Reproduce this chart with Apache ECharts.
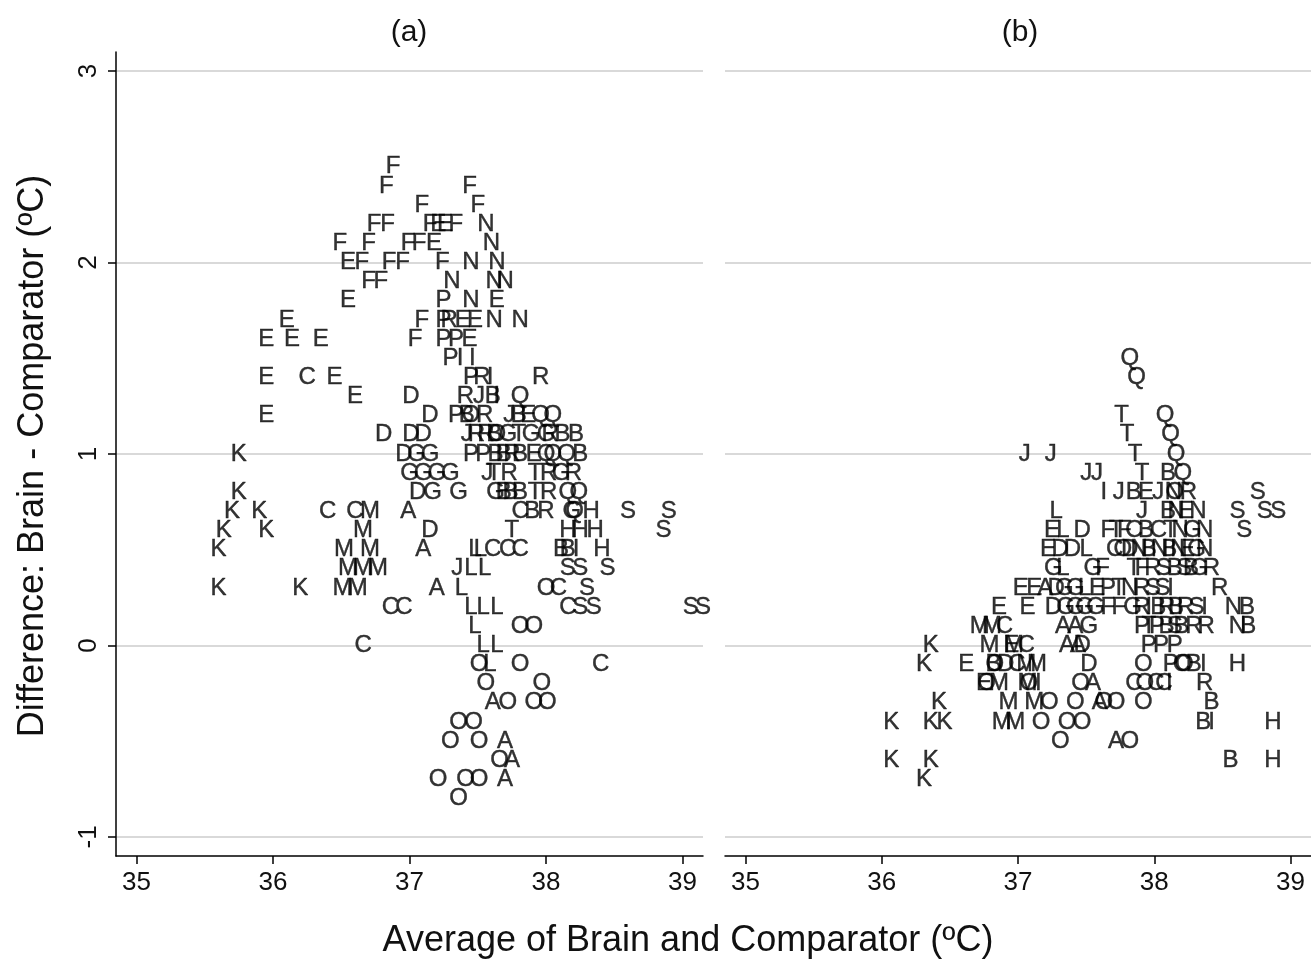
<!DOCTYPE html>
<html><head><meta charset="utf-8">
<script src="https://cdn.jsdelivr.net/npm/echarts@6/dist/echarts.min.js"></script>
<style>html,body{margin:0;padding:0;background:#fff}#c{width:1311px;height:960px}</style>
</head><body><div id="c"></div>
<script>
const xTicks = [35, 36, 37, 38, 39];
const yTicks = [-1, 0, 1, 2, 3];
const panelTitles = ['(a)', '(b)'];
const xTitle = 'Average of Brain and Comparator (ºC)';
const yTitle = 'Difference: Brain - Comparator (ºC)';

// Panel (a): one row per difference value
const aRowY = [2.5, 2.4, 2.3, 2.2, 2.1, 2.0, 1.9, 1.8, 1.7, 1.6, 1.5, 1.4, 1.3, 1.2, 1.1, 1.0, 0.9, 0.8, 0.7, 0.6, 0.5, 0.4, 0.3, 0.2, 0.1, 0.0, -0.1, -0.2, -0.3, -0.4, -0.5, -0.6, -0.7, -0.8];
const aRowLetters = ['F','FF','FF','FFFEEFN','FFFFEN','EFFFFNN','FFNNN','EPNE','EFPREENN','EEEFPPE','PII','ECEPRIR','EDRJBIQ','EDPBORJBEQQ','DDDJRRBOGTGGRBB','KDGGPPBBRBEQQQB','GGGGJTRTRGR','KDGGGBBBTRQQ','KKCCMACBRGQHSS','KKMDTHHHS','KMMALLCCCBBIH','MMMJLLSSS','KKMMALOCS','CCLLLCSSSS','LOO','CLL','OLOC','OO','AOOO','OO','OOA','OA','OOOA','O'];
const aRowX = [
  [36.88],
  [36.83, 37.44],
  [37.09, 37.50],
  [36.74, 36.84, 37.15, 37.21, 37.26, 37.34, 37.56],
  [36.49, 36.70, 36.99, 37.07, 37.18, 37.60],
  [36.55, 36.65, 36.85, 36.95, 37.24, 37.45, 37.64],
  [36.70, 36.79, 37.31, 37.62, 37.70],
  [36.55, 37.25, 37.45, 37.64],
  [36.10, 37.09, 37.25, 37.29, 37.39, 37.48, 37.62, 37.81],
  [35.95, 36.14, 36.35, 37.04, 37.25, 37.34, 37.44],
  [37.30, 37.37, 37.46],
  [35.95, 36.25, 36.45, 37.45, 37.53, 37.59, 37.96],
  [36.60, 37.01, 37.41, 37.51, 37.61, 37.64, 37.81],
  [35.95, 37.15, 37.34, 37.42, 37.45, 37.55, 37.73, 37.80, 37.87, 37.96, 38.05],
  [36.81, 37.01, 37.10, 37.42, 37.49, 37.56, 37.62, 37.64, 37.72, 37.80, 37.89, 38.00, 38.03, 38.12, 38.22],
  [35.75, 36.96, 37.05, 37.15, 37.45, 37.54, 37.63, 37.69, 37.75, 37.81, 37.91, 38.00, 38.05, 38.15, 38.25],
  [37.00, 37.10, 37.20, 37.30, 37.57, 37.62, 37.73, 37.92, 38.02, 38.11, 38.20],
  [35.75, 37.06, 37.17, 37.36, 37.63, 37.69, 37.74, 37.81, 37.92, 38.02, 38.16, 38.24],
  [35.70, 35.90, 36.40, 36.60, 36.71, 36.99, 37.81, 37.90, 38.00, 38.19, 38.21, 38.33, 38.60, 38.90],
  [35.64, 35.95, 36.66, 37.15, 37.75, 38.16, 38.25, 38.36, 38.86],
  [35.60, 36.52, 36.71, 37.10, 37.48, 37.52, 37.61, 37.72, 37.81, 38.11, 38.16, 38.22, 38.41],
  [36.55, 36.66, 36.77, 37.35, 37.45, 37.55, 38.16, 38.25, 38.45],
  [35.60, 36.20, 36.51, 36.62, 37.20, 37.38, 38.00, 38.09, 38.30],
  [36.86, 36.96, 37.45, 37.54, 37.64, 38.16, 38.25, 38.35, 39.06, 39.15],
  [37.48, 37.81, 37.91],
  [36.66, 37.54, 37.64],
  [37.51, 37.59, 37.81, 38.40],
  [37.56, 37.97],
  [37.61, 37.72, 37.91, 38.01],
  [37.36, 37.47],
  [37.30, 37.51, 37.70],
  [37.66, 37.75],
  [37.21, 37.41, 37.51, 37.70],
  [37.36]
];

// Panel (b)
const bRowY = [1.5, 1.4, 1.2, 1.1, 1.0, 0.9, 0.8, 0.7, 0.6, 0.5, 0.4, 0.3, 0.2, 0.1, 0.0, -0.1, -0.2, -0.3, -0.4, -0.5, -0.6, -0.7];
const bRowLetters = ['Q','Q','TQ','TQ','JJTQ','JJTBQ','IJBEJNORS','LJBNENSSS','ELDFTFCBCTNGNS','EDDLCODNBNBNEGN','GLGFTFRSBSBGR','EEADGGLEPTNRSSIR','EEDGGGGFFGRIBRBRSINB','MMCAAGPTPBSBRRNB','KMEMCAADPPP','KEBODCMMDOPCOBIH','EOMMOIOACOCCIR','KMMOOAOOOB','KKKMMOOOBIH','OAO','KKBH','K'];
const bRowX = [
  [37.82],
  [37.87],
  [37.76, 38.08],
  [37.80, 38.12],
  [37.05, 37.24, 37.86, 38.16],
  [37.50, 37.58, 37.91, 38.10, 38.21],
  [37.63, 37.74, 37.85, 37.94, 38.03, 38.14, 38.15, 38.25, 38.76],
  [37.28, 37.91, 38.10, 38.16, 38.23, 38.32, 38.61, 38.81, 38.91],
  [37.25, 37.33, 37.47, 37.66, 37.72, 37.78, 37.85, 37.94, 38.03, 38.12, 38.19, 38.28, 38.37, 38.66],
  [37.22, 37.31, 37.40, 37.50, 37.71, 37.77, 37.82, 37.89, 37.96, 38.04, 38.11, 38.18, 38.24, 38.31, 38.37],
  [37.26, 37.33, 37.55, 37.62, 37.85, 37.91, 37.99, 38.07, 38.15, 38.22, 38.27, 38.33, 38.42],
  [37.02, 37.12, 37.20, 37.28, 37.34, 37.42, 37.49, 37.58, 37.66, 37.74, 37.82, 37.91, 37.99, 38.06, 38.12, 38.48],
  [36.86, 37.07, 37.26, 37.35, 37.42, 37.49, 37.57, 37.66, 37.74, 37.84, 37.91, 37.96, 38.03, 38.09, 38.16, 38.23, 38.31, 38.37, 38.58, 38.68],
  [36.72, 36.81, 36.90, 37.33, 37.42, 37.52, 37.91, 37.96, 38.02, 38.09, 38.15, 38.20, 38.29, 38.38, 38.61, 38.69],
  [36.36, 36.79, 36.95, 36.97, 37.06, 37.36, 37.44, 37.47, 37.96, 38.05, 38.15],
  [36.31, 36.62, 36.82, 36.83, 36.91, 36.99, 37.06, 37.14, 37.52, 37.92, 38.12, 38.20, 38.22, 38.29, 38.36, 38.61],
  [36.75, 36.77, 36.86, 37.07, 37.08, 37.15, 37.46, 37.55, 37.85, 37.93, 38.01, 38.07, 38.11, 38.37],
  [36.42, 36.93, 37.12, 37.23, 37.42, 37.60, 37.63, 37.72, 37.92, 38.42],
  [36.07, 36.36, 36.46, 36.88, 36.98, 37.17, 37.36, 37.47, 38.36, 38.42, 38.87],
  [37.31, 37.72, 37.82],
  [36.07, 36.36, 38.56, 38.87],
  [36.31]
];

function buildPoints(rowY, rowLetters, rowX) {
  const out = [];
  rowY.forEach((y, r) => {
    const letters = rowLetters[r].split('');
    rowX[r].forEach((x, i) => out.push({ value: [x, y], name: letters[i] || '' }));
  });
  return out;
}

const FONT = '"Liberation Sans", Arial, sans-serif';
const INK = '#000';
const grids = [
  { left: 116, top: 52, width: 587, height: 804 },
  { left: 725, top: 52, width: 587, height: 804 }
];

function xAx(i) {
  return {
    type: 'value', gridIndex: i, min: 34.85, max: 39.15,
    axisLine: { show: true, onZero: false, lineStyle: { color: '#000', width: 1.5 } },
    axisTick: { show: true, customValues: xTicks, length: 8, lineStyle: { color: '#000', width: 1.5 } },
    axisLabel: { show: true, customValues: xTicks, fontSize: 26, color: '#111', fontFamily: FONT, margin: 14 },
    splitLine: { show: false }
  };
}
function yAx(i) {
  const showAxis = i === 0;
  return {
    type: 'value', gridIndex: i, min: -1.1, max: 3.1,
    axisLine: { show: showAxis, onZero: false, lineStyle: { color: '#000', width: 1.5 } },
    axisTick: { show: showAxis, customValues: yTicks, length: 8, lineStyle: { color: '#000', width: 1.5 } },
    axisLabel: { show: showAxis, customValues: yTicks, rotate: 90, fontSize: 26, color: '#111', fontFamily: FONT, margin: 14 },
    splitLine: { show: true, showMinLine: true, showMaxLine: true, lineStyle: { color: '#d9d9d9', width: 2 } }
  };
}
function series(i, data) {
  return {
    type: 'scatter', xAxisIndex: i, yAxisIndex: i, data: data,
    symbol: 'circle', symbolSize: 1, itemStyle: { color: 'rgba(0,0,0,0)' }, clip: false, silent: true,
    label: { show: true, position: 'inside', formatter: '{b}', fontSize: 24, color: INK,
             textBorderColor: '#000', textBorderWidth: 0.4, fontFamily: FONT },
    labelLayout: { hideOverlap: false },
    emphasis: { disabled: true }, animation: false
  };
}

const chart = echarts.init(document.getElementById('c'), null, { renderer: 'canvas' });
chart.setOption({
  backgroundColor: '#fff',
  animation: false,
  grid: grids,
  xAxis: [xAx(0), xAx(1)],
  yAxis: [yAx(0), yAx(1)],
  series: [
    series(0, buildPoints(aRowY, aRowLetters, aRowX)),
    series(1, buildPoints(bRowY, bRowLetters, bRowX))
  ],
  graphic: [
    { type: 'text', x: 409, y: 33, style: { text: panelTitles[0], font: '30px ' + FONT, fill: '#111', align: 'center', verticalAlign: 'middle' } },
    { type: 'text', x: 1020, y: 33, style: { text: panelTitles[1], font: '30px ' + FONT, fill: '#111', align: 'center', verticalAlign: 'middle' } },
    { type: 'text', x: 688, y: 941, style: { text: xTitle, font: '36px ' + FONT, fill: '#111', align: 'center', verticalAlign: 'middle' } },
    { type: 'text', x: 33, y: 456, rotation: Math.PI / 2, style: { text: yTitle, font: '36px ' + FONT, fill: '#111', align: 'center', verticalAlign: 'middle' } }
  ]
});
</script>
</body></html>
